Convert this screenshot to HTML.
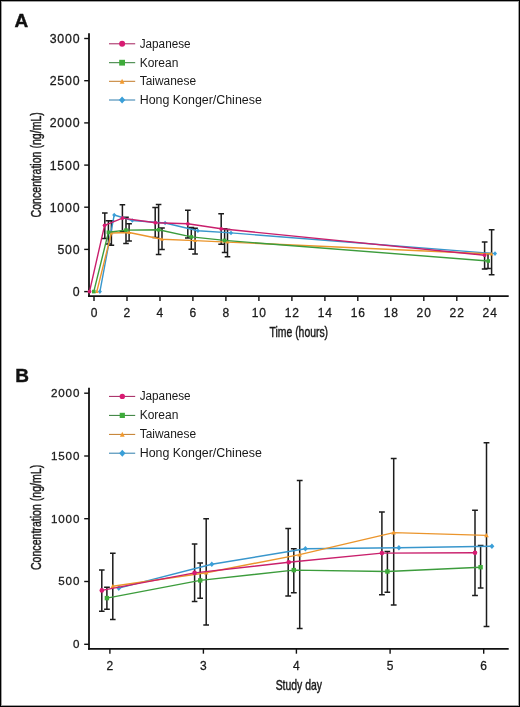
<!DOCTYPE html>
<html><head><meta charset="utf-8"><title>Chart</title>
<style>html,body{margin:0;padding:0;background:#fff;}body{width:520px;height:707px;overflow:hidden;font-family:"Liberation Sans",sans-serif;}svg{display:block;will-change:transform;}</style>
</head><body>
<svg width="520" height="707" viewBox="0 0 520 707">
<rect x="0" y="0" width="520" height="707" fill="#fff"/>
<rect x="1.5" y="1.5" width="517" height="704" fill="none" stroke="#a0a0a0" stroke-width="1"/>
<rect x="0.5" y="0.5" width="519" height="706" fill="none" stroke="#000" stroke-width="1"/>
<text x="14.6" y="26.8" font-family="Liberation Sans, sans-serif" font-size="19" font-weight="bold" fill="#111" stroke="#111" stroke-width="0.4">A</text>
<text x="15.2" y="381.6" font-family="Liberation Sans, sans-serif" font-size="19" font-weight="bold" fill="#111" stroke="#111" stroke-width="0.4">B</text>
<path d="M89 33.2V297" stroke="#111" stroke-width="1.8"/><path d="M88.1 296.1H508.7" stroke="#111" stroke-width="1.9"/><path d="M84.2 291.6H89" stroke="#111" stroke-width="1.4"/><text x="80.3" y="296.1" font-family="Liberation Sans, sans-serif" font-size="12.3" letter-spacing="0.8" text-anchor="end" fill="#1a1a1a" stroke="#1a1a1a" stroke-width="0.28">0</text><path d="M84.2 249.4H89" stroke="#111" stroke-width="1.4"/><text x="80.3" y="253.9" font-family="Liberation Sans, sans-serif" font-size="12.3" letter-spacing="0.8" text-anchor="end" fill="#1a1a1a" stroke="#1a1a1a" stroke-width="0.28">500</text><path d="M84.2 207.2H89" stroke="#111" stroke-width="1.4"/><text x="80.3" y="211.7" font-family="Liberation Sans, sans-serif" font-size="12.3" letter-spacing="0.8" text-anchor="end" fill="#1a1a1a" stroke="#1a1a1a" stroke-width="0.28">1000</text><path d="M84.2 165.1H89" stroke="#111" stroke-width="1.4"/><text x="80.3" y="169.5" font-family="Liberation Sans, sans-serif" font-size="12.3" letter-spacing="0.8" text-anchor="end" fill="#1a1a1a" stroke="#1a1a1a" stroke-width="0.28">1500</text><path d="M84.2 122.9H89" stroke="#111" stroke-width="1.4"/><text x="80.3" y="127.3" font-family="Liberation Sans, sans-serif" font-size="12.3" letter-spacing="0.8" text-anchor="end" fill="#1a1a1a" stroke="#1a1a1a" stroke-width="0.28">2000</text><path d="M84.2 80.7H89" stroke="#111" stroke-width="1.4"/><text x="80.3" y="85.2" font-family="Liberation Sans, sans-serif" font-size="12.3" letter-spacing="0.8" text-anchor="end" fill="#1a1a1a" stroke="#1a1a1a" stroke-width="0.28">2500</text><path d="M84.2 38.5H89" stroke="#111" stroke-width="1.4"/><text x="80.3" y="43" font-family="Liberation Sans, sans-serif" font-size="12.3" letter-spacing="0.8" text-anchor="end" fill="#1a1a1a" stroke="#1a1a1a" stroke-width="0.28">3000</text><path d="M94 296.1V300.9" stroke="#111" stroke-width="1.4"/><text x="94.5" y="316.7" font-family="Liberation Sans, sans-serif" font-size="12" letter-spacing="0.9" text-anchor="middle" fill="#1a1a1a" stroke="#1a1a1a" stroke-width="0.28">0</text><path d="M127 296.1V300.9" stroke="#111" stroke-width="1.4"/><text x="127.4" y="316.7" font-family="Liberation Sans, sans-serif" font-size="12" letter-spacing="0.9" text-anchor="middle" fill="#1a1a1a" stroke="#1a1a1a" stroke-width="0.28">2</text><path d="M160 296.1V300.9" stroke="#111" stroke-width="1.4"/><text x="160.4" y="316.7" font-family="Liberation Sans, sans-serif" font-size="12" letter-spacing="0.9" text-anchor="middle" fill="#1a1a1a" stroke="#1a1a1a" stroke-width="0.28">4</text><path d="M192.9 296.1V300.9" stroke="#111" stroke-width="1.4"/><text x="193.4" y="316.7" font-family="Liberation Sans, sans-serif" font-size="12" letter-spacing="0.9" text-anchor="middle" fill="#1a1a1a" stroke="#1a1a1a" stroke-width="0.28">6</text><path d="M225.9 296.1V300.9" stroke="#111" stroke-width="1.4"/><text x="226.4" y="316.7" font-family="Liberation Sans, sans-serif" font-size="12" letter-spacing="0.9" text-anchor="middle" fill="#1a1a1a" stroke="#1a1a1a" stroke-width="0.28">8</text><path d="M258.9 296.1V300.9" stroke="#111" stroke-width="1.4"/><text x="259.3" y="316.7" font-family="Liberation Sans, sans-serif" font-size="12" letter-spacing="0.9" text-anchor="middle" fill="#1a1a1a" stroke="#1a1a1a" stroke-width="0.28">10</text><path d="M291.9 296.1V300.9" stroke="#111" stroke-width="1.4"/><text x="292.3" y="316.7" font-family="Liberation Sans, sans-serif" font-size="12" letter-spacing="0.9" text-anchor="middle" fill="#1a1a1a" stroke="#1a1a1a" stroke-width="0.28">12</text><path d="M324.9 296.1V300.9" stroke="#111" stroke-width="1.4"/><text x="325.3" y="316.7" font-family="Liberation Sans, sans-serif" font-size="12" letter-spacing="0.9" text-anchor="middle" fill="#1a1a1a" stroke="#1a1a1a" stroke-width="0.28">14</text><path d="M357.8 296.1V300.9" stroke="#111" stroke-width="1.4"/><text x="358.3" y="316.7" font-family="Liberation Sans, sans-serif" font-size="12" letter-spacing="0.9" text-anchor="middle" fill="#1a1a1a" stroke="#1a1a1a" stroke-width="0.28">16</text><path d="M390.8 296.1V300.9" stroke="#111" stroke-width="1.4"/><text x="391.3" y="316.7" font-family="Liberation Sans, sans-serif" font-size="12" letter-spacing="0.9" text-anchor="middle" fill="#1a1a1a" stroke="#1a1a1a" stroke-width="0.28">18</text><path d="M423.8 296.1V300.9" stroke="#111" stroke-width="1.4"/><text x="424.2" y="316.7" font-family="Liberation Sans, sans-serif" font-size="12" letter-spacing="0.9" text-anchor="middle" fill="#1a1a1a" stroke="#1a1a1a" stroke-width="0.28">20</text><path d="M456.8 296.1V300.9" stroke="#111" stroke-width="1.4"/><text x="457.2" y="316.7" font-family="Liberation Sans, sans-serif" font-size="12" letter-spacing="0.9" text-anchor="middle" fill="#1a1a1a" stroke="#1a1a1a" stroke-width="0.28">22</text><path d="M489.8 296.1V300.9" stroke="#111" stroke-width="1.4"/><text x="490.2" y="316.7" font-family="Liberation Sans, sans-serif" font-size="12" letter-spacing="0.9" text-anchor="middle" fill="#1a1a1a" stroke="#1a1a1a" stroke-width="0.28">24</text><text transform="translate(41.2 164.8) rotate(-90)" x="0" y="0" font-family="Liberation Sans, sans-serif" font-size="15.3" stroke="#1a1a1a" stroke-width="0.45" text-anchor="middle" textLength="105.4" lengthAdjust="spacingAndGlyphs" fill="#1a1a1a">Concentration (ng/mL)</text><text x="298.8" y="337.4" font-family="Liberation Sans, sans-serif" font-size="14.5" stroke="#1a1a1a" stroke-width="0.45" text-anchor="middle" textLength="58.5" lengthAdjust="spacingAndGlyphs" fill="#1a1a1a">Time (hours)</text>
<path d="M89 387.7V649.8" stroke="#111" stroke-width="1.8"/><path d="M88.1 648.9H508.7" stroke="#111" stroke-width="1.9"/><path d="M84.2 644.3H89" stroke="#111" stroke-width="1.4"/><text x="80.3" y="648.1" font-family="Liberation Sans, sans-serif" font-size="11.6" letter-spacing="0.9" text-anchor="end" fill="#1a1a1a" stroke="#1a1a1a" stroke-width="0.28">0</text><path d="M84.2 581.5H89" stroke="#111" stroke-width="1.4"/><text x="80.3" y="585.3" font-family="Liberation Sans, sans-serif" font-size="11.6" letter-spacing="0.9" text-anchor="end" fill="#1a1a1a" stroke="#1a1a1a" stroke-width="0.28">500</text><path d="M84.2 518.7H89" stroke="#111" stroke-width="1.4"/><text x="80.3" y="522.5" font-family="Liberation Sans, sans-serif" font-size="11.6" letter-spacing="0.9" text-anchor="end" fill="#1a1a1a" stroke="#1a1a1a" stroke-width="0.28">1000</text><path d="M84.2 456H89" stroke="#111" stroke-width="1.4"/><text x="80.3" y="459.8" font-family="Liberation Sans, sans-serif" font-size="11.6" letter-spacing="0.9" text-anchor="end" fill="#1a1a1a" stroke="#1a1a1a" stroke-width="0.28">1500</text><path d="M84.2 393.2H89" stroke="#111" stroke-width="1.4"/><text x="80.3" y="397" font-family="Liberation Sans, sans-serif" font-size="11.6" letter-spacing="0.9" text-anchor="end" fill="#1a1a1a" stroke="#1a1a1a" stroke-width="0.28">2000</text><path d="M109.9 648.9V653.7" stroke="#111" stroke-width="1.4"/><text x="110.4" y="669.6" font-family="Liberation Sans, sans-serif" font-size="12" letter-spacing="0.9" text-anchor="middle" fill="#1a1a1a" stroke="#1a1a1a" stroke-width="0.28">2</text><path d="M203.4 648.9V653.7" stroke="#111" stroke-width="1.4"/><text x="203.8" y="669.6" font-family="Liberation Sans, sans-serif" font-size="12" letter-spacing="0.9" text-anchor="middle" fill="#1a1a1a" stroke="#1a1a1a" stroke-width="0.28">3</text><path d="M296.4 648.9V653.7" stroke="#111" stroke-width="1.4"/><text x="296.8" y="669.6" font-family="Liberation Sans, sans-serif" font-size="12" letter-spacing="0.9" text-anchor="middle" fill="#1a1a1a" stroke="#1a1a1a" stroke-width="0.28">4</text><path d="M390.1 648.9V653.7" stroke="#111" stroke-width="1.4"/><text x="390.6" y="669.6" font-family="Liberation Sans, sans-serif" font-size="12" letter-spacing="0.9" text-anchor="middle" fill="#1a1a1a" stroke="#1a1a1a" stroke-width="0.28">5</text><path d="M483.7 648.9V653.7" stroke="#111" stroke-width="1.4"/><text x="484.1" y="669.6" font-family="Liberation Sans, sans-serif" font-size="12" letter-spacing="0.9" text-anchor="middle" fill="#1a1a1a" stroke="#1a1a1a" stroke-width="0.28">6</text><text transform="translate(41.2 517.4) rotate(-90)" x="0" y="0" font-family="Liberation Sans, sans-serif" font-size="15.3" stroke="#1a1a1a" stroke-width="0.45" text-anchor="middle" textLength="105.4" lengthAdjust="spacingAndGlyphs" fill="#1a1a1a">Concentration (ng/mL)</text><text x="298.8" y="690.2" font-family="Liberation Sans, sans-serif" font-size="14.5" stroke="#1a1a1a" stroke-width="0.45" text-anchor="middle" textLength="46.3" lengthAdjust="spacingAndGlyphs" fill="#1a1a1a">Study day</text>
<path d="M109 43.8H135.2" stroke="#a3205c" stroke-width="1"/><circle cx="122.1" cy="43.8" r="3" fill="#d81b72"/><text x="139.7" y="47.5" font-family="Liberation Sans, sans-serif" font-size="12.3" textLength="50.9" lengthAdjust="spacingAndGlyphs" fill="#1a1a1a">Japanese</text><path d="M109 62.7H135.2" stroke="#317c35" stroke-width="1"/><rect x="119.2" y="59.8" width="5.8" height="5.8" fill="#3eab3a"/><text x="139.7" y="66.5" font-family="Liberation Sans, sans-serif" font-size="12.3" textLength="38.7" lengthAdjust="spacingAndGlyphs" fill="#1a1a1a">Korean</text><path d="M109 81.3H135.2" stroke="#c27a26" stroke-width="1"/><path d="M122.1 78.7L124.5 83.7L119.7 83.7Z" fill="#f29a2e"/><text x="139.7" y="85" font-family="Liberation Sans, sans-serif" font-size="12.3" textLength="56.4" lengthAdjust="spacingAndGlyphs" fill="#1a1a1a">Taiwanese</text><path d="M109 100H135.2" stroke="#2e7dac" stroke-width="1"/><path d="M122.1 96.5L125.3 100L122.1 103.5L118.9 100Z" fill="#3a9fd8"/><text x="139.7" y="103.8" font-family="Liberation Sans, sans-serif" font-size="12.3" textLength="122.1" lengthAdjust="spacingAndGlyphs" fill="#1a1a1a">Hong Konger/Chinese</text>
<path d="M109 396.4H135.2" stroke="#a3205c" stroke-width="1"/><circle cx="122.3" cy="396.4" r="2.7" fill="#d81b72"/><text x="139.7" y="400.1" font-family="Liberation Sans, sans-serif" font-size="12.3" textLength="50.9" lengthAdjust="spacingAndGlyphs" fill="#1a1a1a">Japanese</text><path d="M109 415.4H135.2" stroke="#317c35" stroke-width="1"/><rect x="119.7" y="412.8" width="5.2" height="5.2" fill="#3eab3a"/><text x="139.7" y="419.1" font-family="Liberation Sans, sans-serif" font-size="12.3" textLength="38.7" lengthAdjust="spacingAndGlyphs" fill="#1a1a1a">Korean</text><path d="M109 434.4H135.2" stroke="#c27a26" stroke-width="1"/><path d="M122.3 431.8L124.7 436.8L119.9 436.8Z" fill="#f29a2e"/><text x="139.7" y="438.1" font-family="Liberation Sans, sans-serif" font-size="12.3" textLength="56.4" lengthAdjust="spacingAndGlyphs" fill="#1a1a1a">Taiwanese</text><path d="M109 453.2H135.2" stroke="#2e7dac" stroke-width="1"/><path d="M122.3 449.7L125.5 453.2L122.3 456.7L119.1 453.2Z" fill="#3a9fd8"/><text x="139.7" y="456.9" font-family="Liberation Sans, sans-serif" font-size="12.3" textLength="122.1" lengthAdjust="spacingAndGlyphs" fill="#1a1a1a">Hong Konger/Chinese</text>
<path d="M104.8 213.1V238.5M102 213.1H107.6M102 238.5H107.6" stroke="#1c1c1c" stroke-width="1.5" fill="none"/><path d="M122.4 204.8V231.5M119.6 204.8H125.2M119.6 231.5H125.2" stroke="#1c1c1c" stroke-width="1.5" fill="none"/><path d="M155.2 207.5V237.5M152.3 207.5H158M152.3 237.5H158" stroke="#1c1c1c" stroke-width="1.5" fill="none"/><path d="M187.8 210.3V238M185 210.3H190.7M185 238H190.7" stroke="#1c1c1c" stroke-width="1.5" fill="none"/><path d="M221.2 213.8V244.2M218.3 213.8H224M218.3 244.2H224" stroke="#1c1c1c" stroke-width="1.5" fill="none"/><path d="M484.6 242V269M481.8 242H487.5M481.8 269H487.5" stroke="#1c1c1c" stroke-width="1.5" fill="none"/><path d="M108.4 220.8V244M105.6 220.8H111.2M105.6 244H111.2" stroke="#1c1c1c" stroke-width="1.5" fill="none"/><path d="M126 217.2V243.5M123.2 217.2H128.8M123.2 243.5H128.8" stroke="#1c1c1c" stroke-width="1.5" fill="none"/><path d="M158.6 204.6V254.5M155.8 204.6H161.4M155.8 254.5H161.4" stroke="#1c1c1c" stroke-width="1.5" fill="none"/><path d="M191.3 227.6V249.3M188.5 227.6H194.2M188.5 249.3H194.2" stroke="#1c1c1c" stroke-width="1.5" fill="none"/><path d="M224.6 228.8V252.5M221.8 228.8H227.4M221.8 252.5H227.4" stroke="#1c1c1c" stroke-width="1.5" fill="none"/><path d="M488 253.6V268.4M485.1 253.6H490.9M485.1 268.4H490.9" stroke="#1c1c1c" stroke-width="1.5" fill="none"/><path d="M111.4 220.8V245.2M108.6 220.8H114.2M108.6 245.2H114.2" stroke="#1c1c1c" stroke-width="1.5" fill="none"/><path d="M129.1 223.7V241M126.2 223.7H131.9M126.2 241H131.9" stroke="#1c1c1c" stroke-width="1.5" fill="none"/><path d="M162 228.1V249.4M159.2 228.1H164.8M159.2 249.4H164.8" stroke="#1c1c1c" stroke-width="1.5" fill="none"/><path d="M195.1 228.3V254.1M192.2 228.3H197.9M192.2 254.1H197.9" stroke="#1c1c1c" stroke-width="1.5" fill="none"/><path d="M227.5 229.4V256.8M224.7 229.4H230.3M224.7 256.8H230.3" stroke="#1c1c1c" stroke-width="1.5" fill="none"/><path d="M491.6 229.8V274.8M488.8 229.8H494.5M488.8 274.8H494.5" stroke="#1c1c1c" stroke-width="1.5" fill="none"/>
<polyline points="99.9,291.6 114.2,215 132.3,220.5 165.1,223 197.9,230.7 231,232.9 495,253.6" fill="none" stroke="#3896cc" stroke-width="1.4" stroke-linejoin="round"/><path d="M99.9 289.3L101.9 291.6L99.9 293.9L97.9 291.6Z" fill="#3a9fd8"/><path d="M114.2 212.7L116.2 215L114.2 217.3L112.2 215Z" fill="#3a9fd8"/><path d="M132.3 218.2L134.3 220.5L132.3 222.8L130.3 220.5Z" fill="#3a9fd8"/><path d="M165.1 220.7L167.1 223L165.1 225.3L163.1 223Z" fill="#3a9fd8"/><path d="M197.9 228.4L199.9 230.7L197.9 233L195.9 230.7Z" fill="#3a9fd8"/><path d="M231 230.6L233 232.9L231 235.2L229 232.9Z" fill="#3a9fd8"/><path d="M495 251.3L497 253.6L495 255.9L493 253.6Z" fill="#3a9fd8"/><polyline points="96.8,291.6 111.4,233 129.1,232.5 162,239.2 195.1,240.6 227.5,242.1 491.6,254" fill="none" stroke="#eb952c" stroke-width="1.4" stroke-linejoin="round"/><path d="M96.8 289.7L98.7 293.1L94.9 293.1Z" fill="#f29a2e"/><path d="M111.4 231.1L113.3 234.5L109.5 234.5Z" fill="#f29a2e"/><path d="M129.1 230.6L131 234L127.2 234Z" fill="#f29a2e"/><path d="M162 237.3L163.9 240.7L160.1 240.7Z" fill="#f29a2e"/><path d="M195.1 238.7L197 242.1L193.2 242.1Z" fill="#f29a2e"/><path d="M227.5 240.2L229.4 243.6L225.6 243.6Z" fill="#f29a2e"/><path d="M491.6 252.1L493.5 255.5L489.7 255.5Z" fill="#f29a2e"/><polyline points="93.8,291.6 108.4,232.3 126,230.1 158.6,229.8 191.3,236.9 224.6,240.4 488.2,261" fill="none" stroke="#3c9c3c" stroke-width="1.4" stroke-linejoin="round"/><rect x="92" y="289.8" width="3.6" height="3.6" fill="#3eab3a"/><rect x="106.6" y="230.5" width="3.6" height="3.6" fill="#3eab3a"/><rect x="124.2" y="228.3" width="3.6" height="3.6" fill="#3eab3a"/><rect x="156.8" y="228" width="3.6" height="3.6" fill="#3eab3a"/><rect x="189.5" y="235.1" width="3.6" height="3.6" fill="#3eab3a"/><rect x="222.8" y="238.6" width="3.6" height="3.6" fill="#3eab3a"/><rect x="486.4" y="259.2" width="3.6" height="3.6" fill="#3eab3a"/><polyline points="89.5,291.6 104.6,225.3 122.5,218.1 155.3,222.7 187.8,223.8 221.2,228.8 484.6,255.2" fill="none" stroke="#c91f6c" stroke-width="1.4" stroke-linejoin="round"/><circle cx="89.5" cy="291.6" r="1.9" fill="#d81b72"/><circle cx="104.6" cy="225.3" r="1.9" fill="#d81b72"/><circle cx="122.5" cy="218.1" r="1.9" fill="#d81b72"/><circle cx="155.3" cy="222.7" r="1.9" fill="#d81b72"/><circle cx="187.8" cy="223.8" r="1.9" fill="#d81b72"/><circle cx="221.2" cy="228.8" r="1.9" fill="#d81b72"/><circle cx="484.6" cy="255.2" r="1.9" fill="#d81b72"/>
<path d="M101.8 569.9V611.3M99 569.9H104.6M99 611.3H104.6" stroke="#1c1c1c" stroke-width="1.5" fill="none"/><path d="M194.6 544V601.6M191.8 544H197.4M191.8 601.6H197.4" stroke="#1c1c1c" stroke-width="1.5" fill="none"/><path d="M288.2 528.5V595.9M285.3 528.5H291.1M285.3 595.9H291.1" stroke="#1c1c1c" stroke-width="1.5" fill="none"/><path d="M381.9 512.1V594.7M379 512.1H384.8M379 594.7H384.8" stroke="#1c1c1c" stroke-width="1.5" fill="none"/><path d="M475 510.2V595.4M472.1 510.2H477.9M472.1 595.4H477.9" stroke="#1c1c1c" stroke-width="1.5" fill="none"/><path d="M106.9 587.3V609.2M104.1 587.3H109.8M104.1 609.2H109.8" stroke="#1c1c1c" stroke-width="1.5" fill="none"/><path d="M200.2 562.9V598.2M197.3 562.9H203M197.3 598.2H203" stroke="#1c1c1c" stroke-width="1.5" fill="none"/><path d="M293.8 548.8V592.8M290.9 548.8H296.7M290.9 592.8H296.7" stroke="#1c1c1c" stroke-width="1.5" fill="none"/><path d="M387.4 551.6V592.2M384.5 551.6H390.2M384.5 592.2H390.2" stroke="#1c1c1c" stroke-width="1.5" fill="none"/><path d="M480.6 545.4V588M477.8 545.4H483.5M477.8 588H483.5" stroke="#1c1c1c" stroke-width="1.5" fill="none"/><path d="M112.8 553.3V619.4M110 553.3H115.6M110 619.4H115.6" stroke="#1c1c1c" stroke-width="1.5" fill="none"/><path d="M206.2 518.8V625M203.3 518.8H209M203.3 625H209" stroke="#1c1c1c" stroke-width="1.5" fill="none"/><path d="M299.7 480.5V628.4M296.8 480.5H302.6M296.8 628.4H302.6" stroke="#1c1c1c" stroke-width="1.5" fill="none"/><path d="M393.7 458.5V604.9M390.8 458.5H396.6M390.8 604.9H396.6" stroke="#1c1c1c" stroke-width="1.5" fill="none"/><path d="M486.5 442.8V626.6M483.6 442.8H489.4M483.6 626.6H489.4" stroke="#1c1c1c" stroke-width="1.5" fill="none"/>
<polyline points="118.8,588.1 211.8,564.2 305.4,548.8 398.9,547.8 491.9,546.2" fill="none" stroke="#3896cc" stroke-width="1.4" stroke-linejoin="round"/><path d="M118.8 585.3L121.3 588.1L118.8 590.9L116.3 588.1Z" fill="#3a9fd8"/><path d="M211.8 561.4L214.3 564.2L211.8 567L209.3 564.2Z" fill="#3a9fd8"/><path d="M305.4 546L307.9 548.8L305.4 551.6L302.9 548.8Z" fill="#3a9fd8"/><path d="M398.9 545L401.4 547.8L398.9 550.6L396.4 547.8Z" fill="#3a9fd8"/><path d="M491.9 543.4L494.4 546.2L491.9 549L489.4 546.2Z" fill="#3a9fd8"/><polyline points="112.8,586.2 206.2,572.7 299.6,554.6 393.6,532.6 486.5,535.4" fill="none" stroke="#eb952c" stroke-width="1.4" stroke-linejoin="round"/><path d="M112.8 583.9L115.1 588L110.5 588Z" fill="#f29a2e"/><path d="M206.2 570.4L208.5 574.5L203.9 574.5Z" fill="#f29a2e"/><path d="M299.6 552.3L301.9 556.4L297.3 556.4Z" fill="#f29a2e"/><path d="M393.6 530.3L395.9 534.4L391.3 534.4Z" fill="#f29a2e"/><path d="M486.5 533.1L488.8 537.2L484.2 537.2Z" fill="#f29a2e"/><polyline points="106.9,598.1 200.2,580.4 293.8,570.1 387.4,571.5 480.6,567.2" fill="none" stroke="#3c9c3c" stroke-width="1.4" stroke-linejoin="round"/><rect x="104.7" y="595.9" width="4.4" height="4.4" fill="#3eab3a"/><rect x="198" y="578.2" width="4.4" height="4.4" fill="#3eab3a"/><rect x="291.6" y="567.9" width="4.4" height="4.4" fill="#3eab3a"/><rect x="385.2" y="569.3" width="4.4" height="4.4" fill="#3eab3a"/><rect x="478.4" y="565" width="4.4" height="4.4" fill="#3eab3a"/><polyline points="101.8,590.4 194.6,572.9 288.7,562.3 381.9,553.1 475,552.7" fill="none" stroke="#c91f6c" stroke-width="1.4" stroke-linejoin="round"/><circle cx="101.8" cy="590.4" r="2.3" fill="#d81b72"/><circle cx="194.6" cy="572.9" r="2.3" fill="#d81b72"/><circle cx="288.7" cy="562.3" r="2.3" fill="#d81b72"/><circle cx="381.9" cy="553.1" r="2.3" fill="#d81b72"/><circle cx="475" cy="552.7" r="2.3" fill="#d81b72"/>
</svg>
</body></html>
